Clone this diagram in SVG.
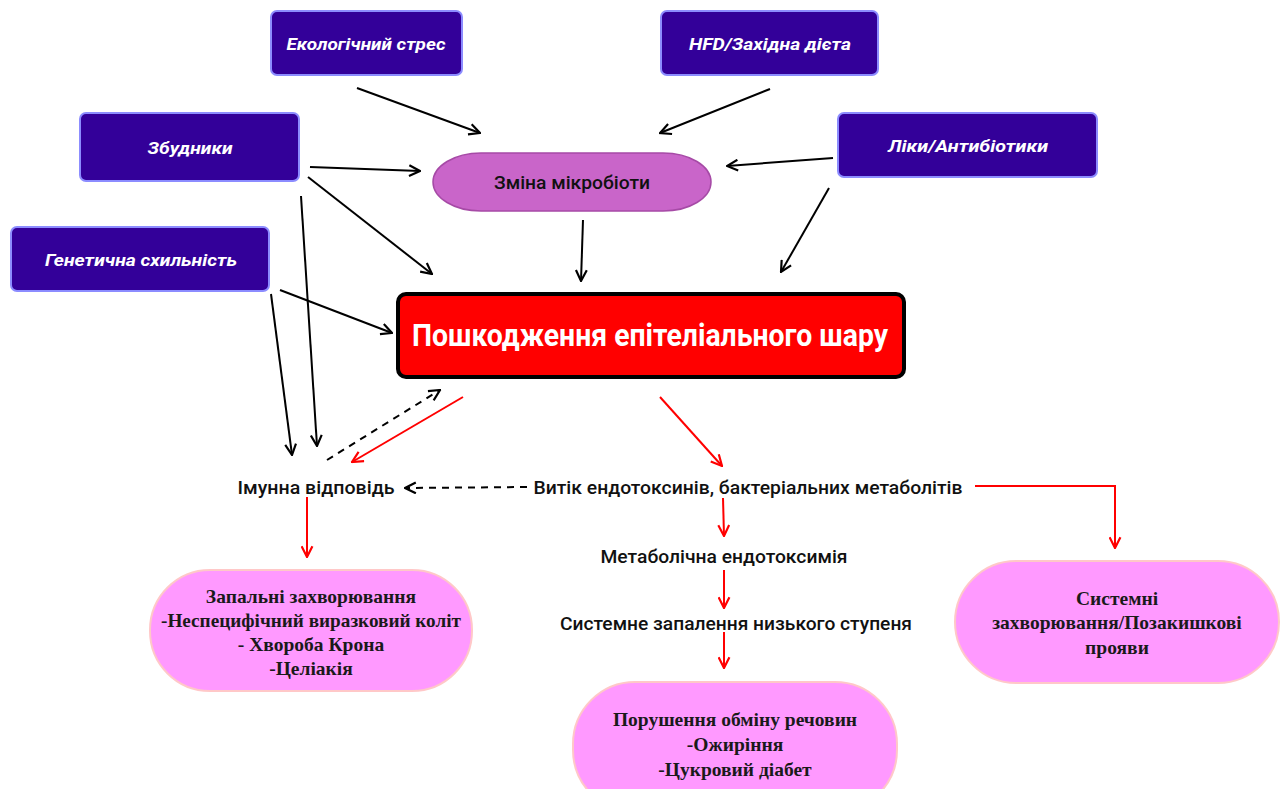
<svg xmlns="http://www.w3.org/2000/svg" width="1281" height="789" viewBox="0 0 1281 789">
<defs>
<style>
.src rect{fill:#330099;stroke:#8c8cff;stroke-width:2}
.src text{fill:#fff;font-family:Roboto,"Liberation Sans",sans-serif;font-weight:bold;font-style:italic;font-size:17px;text-anchor:middle}
.lbl{fill:#111;font-family:Roboto,"Liberation Sans",sans-serif;font-weight:500;font-size:18px;text-anchor:middle}
.pink rect{fill:#ff99ff;stroke:#ffc8c8;stroke-width:2}
.pink text{fill:#1a1a1a;font-family:"Liberation Serif",serif;font-weight:bold;font-size:19.5px;text-anchor:middle}
.blk{stroke:#000;stroke-width:2;fill:none;marker-end:url(#ah)}
.red{stroke:#ff0000;stroke-width:2;fill:none;marker-end:url(#ahr)}
.dash{stroke:#000;stroke-width:2;fill:none;stroke-dasharray:7 6;marker-end:url(#ah)}
</style>
<marker id="ah" viewBox="0 0 12 12" refX="11" refY="6" markerWidth="13" markerHeight="13" markerUnits="userSpaceOnUse" orient="auto"><path d="M1,1 L11,6 L1,11" fill="none" stroke="#000" stroke-width="2"/></marker>
<marker id="ahr" viewBox="0 0 12 12" refX="11" refY="6" markerWidth="13" markerHeight="13" markerUnits="userSpaceOnUse" orient="auto"><path d="M1,1 L11,6 L1,11" fill="none" stroke="#ff0000" stroke-width="2"/></marker>
</defs>
<rect width="1281" height="789" fill="#fff"/>

<g id="connectors">
<line class="blk" x1="357" y1="88" x2="480" y2="133"/>
<line class="blk" x1="770" y1="89" x2="660" y2="133"/>
<line class="blk" x1="310" y1="167" x2="420" y2="171"/>
<line class="blk" x1="833" y1="158" x2="727" y2="166"/>
<line class="blk" x1="308" y1="177" x2="432" y2="274"/>
<line class="blk" x1="583" y1="220" x2="581" y2="281"/>
<line class="blk" x1="829" y1="188" x2="781" y2="272"/>
<line class="blk" x1="280" y1="290" x2="392" y2="333"/>
<line class="blk" x1="301" y1="196" x2="317" y2="446"/>
<line class="blk" x1="271" y1="294" x2="292" y2="455"/>
<line class="dash" x1="327" y1="460" x2="440" y2="390"/>
<line class="red" x1="463" y1="397" x2="352" y2="462"/>
<line class="red" x1="660" y1="397" x2="722" y2="466"/>
<line class="dash" x1="527" y1="487" x2="405" y2="488"/>
<line class="red" x1="307" y1="497" x2="307" y2="557"/>
<line class="red" x1="723" y1="498" x2="724" y2="536"/>
<line class="red" x1="724" y1="570" x2="724" y2="608"/>
<line class="red" x1="724" y1="632" x2="724" y2="668"/>
<polyline class="red" points="975,486 1115,486 1115,548"/>
</g>

<g id="n-eco" class="src"><rect x="271" y="11" width="191" height="64" rx="6"/><text x="366" y="50" textLength="159" lengthAdjust="spacingAndGlyphs">Екологічний стрес</text></g>
<g id="n-hfd" class="src"><rect x="661" y="11" width="217" height="64" rx="6"/><text x="770" y="50" textLength="162" lengthAdjust="spacingAndGlyphs">HFD/Західна дієта</text></g>
<g id="n-zbud" class="src"><rect x="80" y="113" width="219" height="68" rx="6"/><text x="190" y="154" textLength="85" lengthAdjust="spacingAndGlyphs">Збудники</text></g>
<g id="n-liky" class="src"><rect x="838" y="113" width="259" height="64" rx="6"/><text x="968" y="152" textLength="160" lengthAdjust="spacingAndGlyphs">Ліки/Антибіотики</text></g>
<g id="n-gen" class="src"><rect x="11" y="227" width="258" height="64" rx="6"/><text x="141" y="266" textLength="192" lengthAdjust="spacingAndGlyphs">Генетична схильність</text></g>

<g id="n-micro"><rect x="433" y="153" width="278" height="58" rx="48" ry="29" fill="#c965c9" stroke="#a64aa6" stroke-width="1.5"/><text class="lbl" x="572" y="189" textLength="156" lengthAdjust="spacingAndGlyphs">Зміна мікробіоти</text></g>

<g id="n-damage"><rect x="398" y="294" width="506" height="83" rx="8" fill="#ff0000" stroke="#000" stroke-width="4"/><text x="650" y="346" fill="#fff" font-family="Roboto,'Liberation Sans',sans-serif" font-weight="bold" font-size="31" text-anchor="middle" textLength="476" lengthAdjust="spacingAndGlyphs">Пошкодження епітеліального шару</text></g>

<g id="n-immune"><text class="lbl" x="316" y="494" textLength="157" lengthAdjust="spacingAndGlyphs">Імунна відповідь</text></g>
<g id="n-leak"><text class="lbl" x="748" y="494" textLength="429" lengthAdjust="spacingAndGlyphs">Витік ендотоксинів, бактеріальних метаболітів</text></g>
<g id="n-endotox"><text class="lbl" x="724" y="563" textLength="247" lengthAdjust="spacingAndGlyphs">Метаболічна ендотоксимія</text></g>
<g id="n-sysinfl"><text class="lbl" x="736" y="630" textLength="352" lengthAdjust="spacingAndGlyphs">Системне запалення низького ступеня</text></g>

<g id="n-inflam" class="pink"><rect x="150" y="570" width="322" height="121" rx="60"/>
<text x="311" y="603">Запальні захворювання</text>
<text x="311" y="627" textLength="300" lengthAdjust="spacingAndGlyphs">-Неспецифічний виразковий коліт</text>
<text x="311" y="651">- Хвороба Крона</text>
<text x="311" y="675">-Целіакія</text></g>

<g id="n-metab" class="pink"><rect x="573" y="682" width="324" height="130" rx="62"/>
<text x="735" y="726">Порушення обміну речовин</text>
<text x="735" y="751">-Ожиріння</text>
<text x="735" y="776">-Цукровий діабет</text></g>

<g id="n-system" class="pink"><rect x="955" y="561" width="324" height="122" rx="61"/>
<text x="1117" y="605">Системні</text>
<text x="1117" y="629">захворювання/Позакишкові</text>
<text x="1117" y="654">прояви</text></g>
</svg>
